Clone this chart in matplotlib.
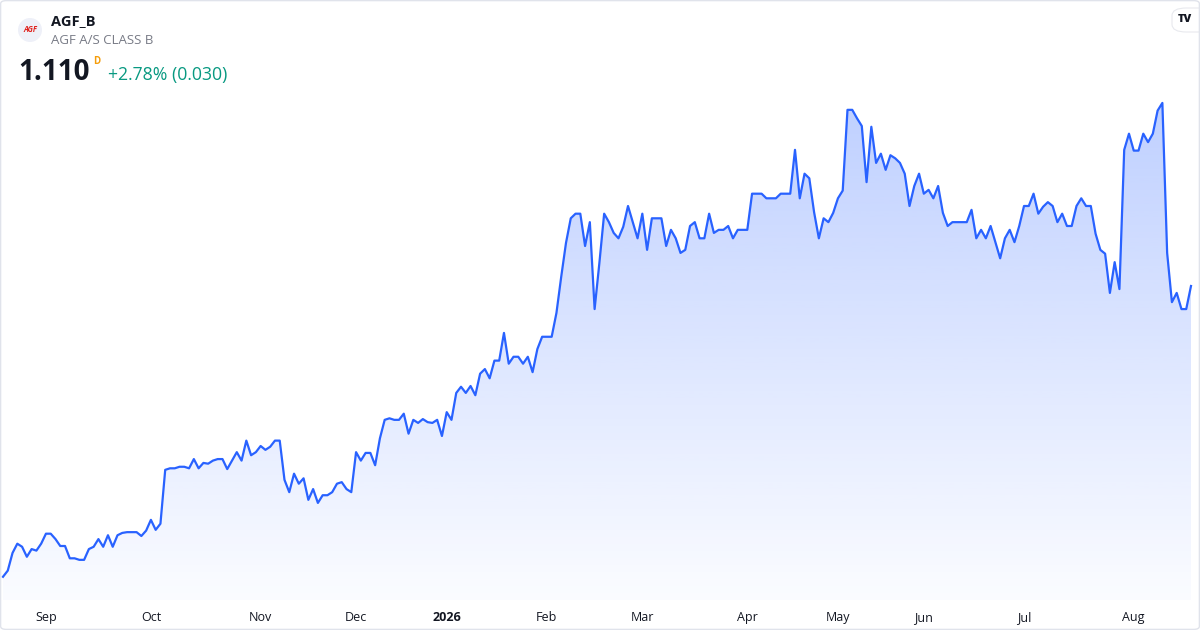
import numpy as np
import pandas as pd
import matplotlib
matplotlib.use('Agg')
import matplotlib.pyplot as plt
from matplotlib.patches import FancyBboxPatch, Circle

# --- DATA (daily close, AGF_B) ---
prices = [
    0.732, 0.740, 0.763, 0.775, 0.771, 0.758, 0.768, 0.766, 0.775, 0.788,
    0.788, 0.781, 0.772, 0.772, 0.756, 0.756, 0.754, 0.754, 0.768, 0.771,
    0.781, 0.771, 0.786, 0.771, 0.786, 0.789, 0.790, 0.790, 0.790, 0.785,
    0.792, 0.806, 0.793, 0.801, 0.871, 0.873, 0.873, 0.875, 0.875, 0.873,
    0.885, 0.873, 0.880, 0.879, 0.883, 0.885, 0.885, 0.872, 0.883, 0.894,
    0.883, 0.909, 0.890, 0.894, 0.902, 0.897, 0.901, 0.909, 0.909, 0.858,
    0.842, 0.866, 0.853, 0.860, 0.832, 0.846, 0.828, 0.838, 0.838, 0.842,
    0.853, 0.855, 0.846, 0.842, 0.894, 0.883, 0.893, 0.893, 0.877, 0.912,
    0.936, 0.938, 0.936, 0.936, 0.944, 0.918, 0.936, 0.932, 0.937, 0.933,
    0.932, 0.936, 0.915, 0.946, 0.936, 0.971, 0.979, 0.971, 0.980, 0.968,
    0.996, 1.002, 0.990, 1.013, 1.013, 1.049, 1.009, 1.018, 1.018, 1.009,
    1.018, 0.998, 1.028, 1.044, 1.044, 1.044, 1.075, 1.122, 1.166, 1.198,
    1.204, 1.204, 1.162, 1.193, 1.080, 1.140, 1.204, 1.193, 1.179, 1.172,
    1.187, 1.214, 1.193, 1.172, 1.204, 1.157, 1.198, 1.198, 1.198, 1.162,
    1.183, 1.172, 1.153, 1.157, 1.188, 1.193, 1.172, 1.172, 1.204, 1.179,
    1.183, 1.183, 1.188, 1.172, 1.183, 1.183, 1.183, 1.230, 1.230, 1.230,
    1.224, 1.224, 1.224, 1.230, 1.230, 1.230, 1.287, 1.224, 1.256, 1.250,
    1.206, 1.172, 1.198, 1.193, 1.205, 1.224, 1.234, 1.339, 1.339, 1.328,
    1.318, 1.245, 1.317, 1.270, 1.282, 1.261, 1.280, 1.276, 1.270, 1.256,
    1.214, 1.240, 1.256, 1.230, 1.235, 1.224, 1.240, 1.205, 1.188, 1.193,
    1.193, 1.193, 1.193, 1.209, 1.172, 1.183, 1.172, 1.188, 1.167, 1.146,
    1.172, 1.183, 1.167, 1.188, 1.214, 1.214, 1.230, 1.204, 1.213, 1.219,
    1.214, 1.193, 1.204, 1.188, 1.188, 1.214, 1.224, 1.214, 1.214, 1.178,
    1.157, 1.152, 1.101, 1.141, 1.106, 1.287, 1.308, 1.286, 1.286, 1.308,
    1.297, 1.308, 1.338, 1.348, 1.153, 1.089, 1.101, 1.080, 1.080, 1.110,
]

# Copenhagen exchange closing days in the period
HOLIDAYS = [
    '2025-12-24', '2025-12-25', '2025-12-26', '2025-12-31', '2026-01-01',
    '2026-04-02', '2026-04-03', '2026-04-06', '2026-05-14', '2026-05-15',
    '2026-05-25', '2026-06-05',
]

SYMBOL = 'AGF_B'
NAME = 'AGF A/S CLASS B'
LAST = '1.110'
CHANGE = '+2.78% (0.030)'

LINE_COLOR = '#2962ff'
TEXT_COLOR = '#131722'
GREY = '#787b86'
GREEN = '#089981'

W, H = 1200, 630

dates = pd.bdate_range('2025-08-19', periods=len(prices), freq='C', holidays=HOLIDAYS)
n = len(prices)
x = np.arange(n)

# month ticks on the first trading day of each month
tick_pos, tick_lab = [], []
for i in range(1, n):
    if dates[i].month != dates[i - 1].month:
        tick_pos.append(i)
        tick_lab.append(str(dates[i].year) if dates[i].month == 1 else dates[i].strftime('%b'))

plt.rcParams['font.family'] = ['Open Sans', 'DejaVu Sans']

fig = plt.figure(figsize=(W / 100, H / 100), dpi=100)
fig.patch.set_facecolor('white')

ax = fig.add_axes([0, 30 / H, 1, 510 / H])
ax.set_facecolor('none')

px_per = (1191 - 3) / (n - 1)
ax.set_xlim(-3 / px_per, (n - 1) + 9 / px_per)
y0, y1 = 0.7018, 1.3648
ax.set_ylim(y0, y1)

# gradient area under the line
poly = ax.fill_between(x, prices, y0, color='none', lw=0)
grad = np.zeros((256, 1, 4))
grad[:, 0, 0] = 41 / 255
grad[:, 0, 1] = 98 / 255
grad[:, 0, 2] = 1.0
grad[:, 0, 3] = np.linspace(0.02, 0.30, 256)
im = ax.imshow(grad, origin='lower', aspect='auto',
               extent=[0, n - 1, y0, max(prices)], zorder=1)
im.set_clip_path(poly.get_paths()[0], transform=ax.transData)

ax.plot(x, prices, color=LINE_COLOR, lw=1.6, zorder=3, solid_joinstyle='round')

for s in ax.spines.values():
    s.set_visible(False)
ax.set_yticks([])
ax.set_xticks(tick_pos)
ax.set_xticklabels(tick_lab, fontsize=9, color=TEXT_COLOR)
ax.tick_params(axis='x', length=0, pad=8)
for lab in ax.get_xticklabels():
    if lab.get_text().isdigit():
        lab.set_fontweight('bold')


def ftxt(px, py, s, **kw):
    fig.text(px / W, 1 - py / H, s, **kw)


# header: logo circle drawn in inches so it stays round
fig.patches.append(Circle((0.30, (H - 30) / 100), 0.12, transform=fig.dpi_scale_trans,
                          facecolor='#eef0f8', edgecolor='none'))
ftxt(30, 30, 'AGF', fontsize=5.5, color='#e0201b', fontweight='bold', style='italic',
     ha='center', va='center')
ftxt(51, 21, SYMBOL, fontsize=10.5, fontweight='bold', color=TEXT_COLOR, va='center')
ftxt(51, 41, NAME, fontsize=9.5, color=GREY, va='center')
ftxt(18, 73, LAST, fontsize=20, fontweight='bold', color=TEXT_COLOR, va='center')
ftxt(93, 62, 'D', fontsize=7, fontweight='bold', color='#f59d0b', va='center')
ftxt(108, 75, CHANGE, fontsize=12.7, color=GREEN, va='center')

# TradingView badge
fig.patches.append(FancyBboxPatch((1172 / W, 1 - 32 / H), 40 / W, 24 / H,
                                  boxstyle='round,pad=0,rounding_size=0.012',
                                  transform=fig.transFigure, facecolor='white',
                                  edgecolor='#e8e9ee', lw=0.8))
ftxt(1185, 20, 'TV', fontsize=8, fontweight='heavy', color=TEXT_COLOR,
     ha='center', va='center')

# card border
fig.patches.append(FancyBboxPatch((0.6 / W, 0.6 / H), (W - 1.2) / W, (H - 1.2) / H,
                                  boxstyle='round,pad=0,rounding_size=0.005',
                                  transform=fig.transFigure, facecolor='none',
                                  edgecolor='#e0e3eb', lw=1))

fig.savefig('out.png', dpi=100)
